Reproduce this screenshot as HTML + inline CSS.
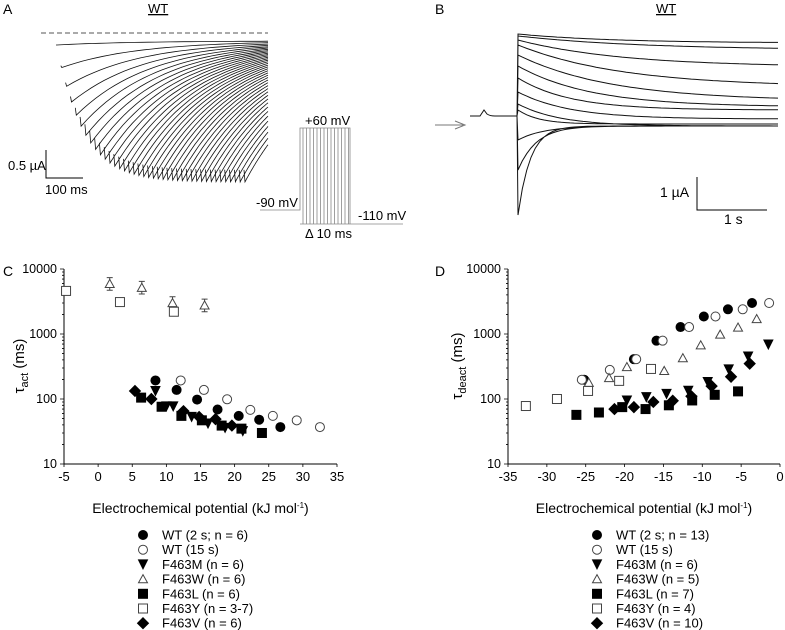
<!DOCTYPE html>
<html><head><meta charset="utf-8"><style>
body{margin:0;background:#fff}
svg{display:block;font-family:"Liberation Sans",Arial,sans-serif}
</style></head><body>
<svg id="fig" width="785" height="630" viewBox="0 0 785 630">
<g id="panelA">
<text x="3" y="14" font-size="14">A</text>
<text x="148" y="13" font-size="13" text-decoration="underline">WT</text>
<line x1="41" y1="33" x2="268" y2="33" stroke="#555" stroke-dasharray="5,3"/>
<g id="tracesA"></g>
<path d="M46 150V178H83" fill="none" stroke="#000"/>
<text x="8" y="170" font-size="13">0.5 µA</text>
<text x="45" y="194" font-size="13">100 ms</text>
<g id="protocol"></g>
<text x="305" y="125" font-size="13">+60 mV</text>
<text x="256" y="207" font-size="13">-90 mV</text>
<text x="358" y="220" font-size="13">-110 mV</text>
<text x="305" y="238" font-size="13">Δ 10 ms</text>
</g>
<g id="panelB">
<text x="435" y="14" font-size="14">B</text>
<text x="656" y="13" font-size="13" text-decoration="underline">WT</text>
<path d="M435 125H463M455 121L465 125L455 129" fill="none" stroke="#777"/>
<g id="tracesB"></g>
<path d="M697 177V210H767" fill="none" stroke="#000"/>
<text x="660" y="197" font-size="14">1 µA</text>
<text x="724" y="224" font-size="14">1 s</text>
</g>
<g id="chartC"></g>
<g id="chartD"></g>
</svg>
<script>
// ---- Panel C data (tau_act) ----
const cWTx=[8.4,11.5,14.5,17.5,20.6,23.6,26.7];
const cWTy=[193,138,98,69,55,48,37];
const cWT15x=[12.1,15.5,18.9,22.3,25.6,29.1,32.5];
const cWT15y=[193,138,99,68,55,47,37];
const cMx=[8.4,10.0,11.0,13.7,16.1,18.6,21.2];
const cMy=[133,77,77,53,42,36,32];
const cWx=[1.7,6.4,10.9,15.6];
const cWy=[5900,5150,3000,2750];
const cLx=[6.3,9.3,12.2,15.2,18.1,21.0,24.0];
const cLy=[105,76,55,47,39,35,30];
const cYx=[-4.7,3.2,11.1];
const cYy=[4600,3100,2200];
const cVx=[5.4,7.8,12.5,14.8,17.2,19.6];
const cVy=[133,100,65,53,49,39];
const cXTicks=[-5,0,5,10,15,20,25,30,35];
const cYTicks=[10,100,1000,10000];
// ---- Panel D data (tau_deact) ----
const dWTx=[-25.2,-18.8,-15.9,-12.8,-9.8,-6.7,-3.6];
const dWTy=[198,410,790,1280,1860,2400,3000];
const dWT15x=[-25.5,-21.9,-18.5,-15.1,-11.7,-8.3,-4.8,-1.4];
const dWT15y=[198,280,410,790,1280,1860,2400,3000];
const dMx=[-19.7,-17.2,-14.6,-11.8,-9.3,-6.6,-4.1,-1.5];
const dMy=[95,107,120,134,183,285,450,690];
const dWx=[-24.6,-22.0,-19.7,-14.9,-12.5,-10.2,-7.7,-5.4,-3.0];
const dWy=[178,210,310,270,425,670,980,1260,1700];
const dLx=[-26.2,-23.3,-20.3,-17.3,-14.3,-11.3,-8.4,-5.4];
const dLy=[57,62,75,70,80,95,116,131];
const dYx=[-32.7,-28.7,-24.7,-20.7,-16.6];
const dYy=[78,100,133,190,290];
const dVx=[-21.3,-18.8,-16.3,-13.8,-11.4,-8.8,-6.3,-3.9];
const dVy=[70,75,90,94,110,158,220,350];
const dXTicks=[-35,-30,-25,-20,-15,-10,-5,0];
const dYTicks=[10,100,1000,10000];

const NS="http://www.w3.org/2000/svg";
function mk(parent,tag,attrs){const e=document.createElementNS(NS,tag);for(const k in attrs)e.setAttribute(k,attrs[k]);parent.appendChild(e);return e;}

// Panel A traces
(function(){
  const g=document.getElementById('tracesA');
  let d='';
  const n=40;
  for(let i=0;i<n;i++){
    const f=i/(n-1);
    const x0=57+f*188;
    const ymin=45+137*(1-Math.exp(-f*7));
    let s='M'+(x0-1).toFixed(1)+' '+(ymin-12*Math.min(1,f*6)).toFixed(1)+'L'+x0.toFixed(1)+' '+ymin.toFixed(1);
    const span=268-x0;
    for(let k=1;k<=30;k++){
      const t=k/30;const x=x0+span*t;
      const y=41+(ymin-41)*Math.exp(-t*span/75);
      s+='L'+x.toFixed(1)+' '+y.toFixed(1);
    }
    d+=s;
  }
  const p=mk(g,'path',{d:d,fill:'none',stroke:'#111','stroke-width':0.8});
  
  
  const pr=document.getElementById('protocol');
  let pd='M260 210H300V128H350V224H403M300 224H350';
  for(let x=303;x<350;x+=3.5)pd+='M'+x+' 128V224';
  const pp=mk(pr,'path',{d:pd,fill:'none',stroke:'#888','stroke-width':0.8});
  
  
})();

// Panel B traces
(function(){
  const g=document.getElementById('tracesB');
  let d='M470 116H480L484 110L487 114Q490 116 495 116H517';
  const pos=[[34,43,0.9],[36,50,1.2],[40,67,1.0],[45,87,1.0],[55,101,0.9],[66,107,0.7],[78,110,0.5],[92,119,0.5],[104,126,0.4],[110,124,0.2]];
  const neg=[[140,126,0.25],[170,126,0.18],[215,126,0.12]];
  const x0=518,x1=778;
  pos.concat(neg).forEach(([a,b,tau])=>{
    let s='M517 116L'+x0+' '+a;
    for(let k=1;k<=60;k++){const t=k/60;const x=x0+(x1-x0)*t;const y=b+(a-b)*Math.exp(-t*2.5/tau);s+='L'+x.toFixed(1)+' '+y.toFixed(1);}
    d+=s;
  });
  const p=mk(g,'path',{d:d,fill:'none',stroke:'#111','stroke-width':1});
  
  
})();

function marker(g,type,x,y,name){
  const r=4.5;let e;
  if(type==='circle'||type==='ocircle')e=mk(g,'circle',{cx:x,cy:y,r:r});
  else if(type==='square'||type==='osquare')e=mk(g,'rect',{x:x-r,y:y-r,width:2*r,height:2*r});
  else if(type==='tdown')e=mk(g,'polygon',{points:`${x-r},${y-r} ${x+r},${y-r} ${x},${y+r}`});
  else if(type==='otri')e=mk(g,'polygon',{points:`${x-r},${y+r*0.8} ${x+r},${y+r*0.8} ${x},${y-r}`});
  else if(type==='diamond')e=mk(g,'polygon',{points:`${x},${y-r-1} ${x+r+1},${y} ${x},${y+r+1} ${x-r-1},${y}`});
  const open=type[0]==='o';
  e.setAttribute('fill',open?'#fff':'#000');
  e.setAttribute('stroke',open?'#444':'#000');
  e.setAttribute('stroke-width',1);
  
  
  return e;
}

function chart(id,cfg){
  const g=document.getElementById(id);
  const L=cfg.left,R=cfg.right,T=269,B=464;
  const sx=v=>L+(v-cfg.xmin)/(cfg.xmax-cfg.xmin)*(R-L);
  const sy=v=>B-(Math.log10(v)-1)/3*(B-T);
  const lab=mk(g,'text',{x:cfg.labX,y:276,'font-size':14});lab.textContent=cfg.label;
  
  
  const ax=mk(g,'path',{d:`M${L} ${T}V${B}H${R}`,fill:'none',stroke:'#000','stroke-width':1});
  
  
  let td='';
  cfg.yTicks.forEach(v=>{td+=`M${L-4} ${sy(v)}H${L}`;
    const t=mk(g,'text',{x:L-7,y:sy(v)+4,'font-size':12.5,'text-anchor':'end'});t.textContent=v;
    
    });
  for(let dec=10;dec<10000;dec*=10)for(let m=2;m<10;m++)td+=`M${L-2} ${sy(dec*m)}H${L}`;
  cfg.xTicks.forEach(v=>{td+=`M${sx(v)} ${B}V${B+3}`;
    const t=mk(g,'text',{x:sx(v),y:B+17,'font-size':13,'text-anchor':'middle'});t.textContent=v;
    
    });
  const tk=mk(g,'path',{d:td,stroke:'#000','stroke-width':0.8,fill:'none'});
  
  
  const yt=mk(g,'text',{transform:`translate(${cfg.ytX},366) rotate(-90)`,'font-size':15,'text-anchor':'middle'});
  yt.innerHTML='τ<tspan font-size="11" dy="4">'+cfg.sub+'</tspan><tspan dy="-4"> (ms)</tspan>';
  
  
  const xt=mk(g,'text',{x:(L+R)/2,y:513,'font-size':14,'text-anchor':'middle'});
  xt.innerHTML='Electrochemical potential (kJ mol<tspan font-size="8" dy="-5">-1</tspan><tspan dy="5">)</tspan>';
  
  
  cfg.series.forEach((s,si)=>{
    s.x.forEach((v,i)=>{
      const px=sx(v),py=sy(s.y[i]);
      if(s.err){const e=mk(g,'path',{d:`M${px} ${sy(s.y[i]*1.25)}V${sy(s.y[i]*0.8)}M${px-3} ${sy(s.y[i]*1.25)}h6M${px-3} ${sy(s.y[i]*0.8)}h6`,stroke:'#444',fill:'none'});
        
        }
      marker(g,s.type,px,py,s.name+'-point');
    });
    const ly=535+si*14.7;
    marker(g,s.type,cfg.legX,ly,s.name+'-legend-marker');
    const t=mk(g,'text',{x:cfg.legX+19,y:ly+4.5,'font-size':13});t.textContent=s.label;
    
    
  });
}
chart('chartC',{left:64,right:337,xmin:-5,xmax:35,xTicks:cXTicks,yTicks:cYTicks,label:'C',labX:3,ytX:24,sub:'act',legX:143,
 series:[
 {x:cWTx,y:cWTy,type:'circle',name:'wt-2s',label:'WT (2 s; n = 6)'},
 {x:cWT15x,y:cWT15y,type:'ocircle',name:'wt-15s',label:'WT (15 s)'},
 {x:cMx,y:cMy,type:'tdown',name:'f463m',label:'F463M (n = 6)'},
 {x:cWx,y:cWy,type:'otri',name:'f463w',label:'F463W (n = 6)',err:true},
 {x:cLx,y:cLy,type:'square',name:'f463l',label:'F463L (n = 6)'},
 {x:cYx,y:cYy,type:'osquare',name:'f463y',label:'F463Y (n = 3-7)'},
 {x:cVx,y:cVy,type:'diamond',name:'f463v',label:'F463V (n = 6)'}]});
chart('chartD',{left:508,right:780,xmin:-35,xmax:0,xTicks:dXTicks,yTicks:dYTicks,label:'D',labX:435,ytX:462,sub:'deact',legX:597,
 series:[
 {x:dWTx,y:dWTy,type:'circle',name:'wt-2s',label:'WT (2 s; n = 13)'},
 {x:dWT15x,y:dWT15y,type:'ocircle',name:'wt-15s',label:'WT (15 s)'},
 {x:dMx,y:dMy,type:'tdown',name:'f463m',label:'F463M (n = 6)'},
 {x:dWx,y:dWy,type:'otri',name:'f463w',label:'F463W (n = 5)'},
 {x:dLx,y:dLy,type:'square',name:'f463l',label:'F463L (n = 7)'},
 {x:dYx,y:dYy,type:'osquare',name:'f463y',label:'F463Y (n = 4)'},
 {x:dVx,y:dVy,type:'diamond',name:'f463v',label:'F463V (n = 10)'}]});
</script>
</body></html>
